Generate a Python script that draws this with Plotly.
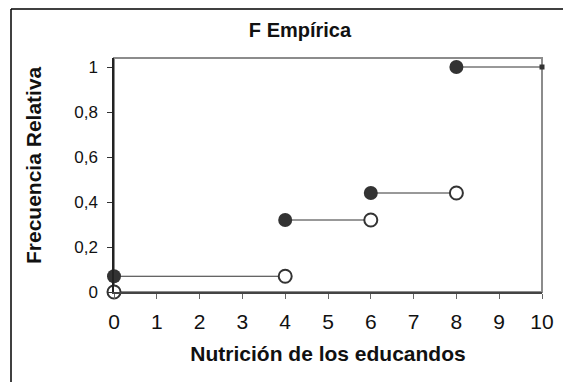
import plotly.graph_objects as go

# Nutricion de los educandos - funcion de distribucion empirica
x_pasos = [0, 4, 6, 8, 10]
frec_acum = [0.07, 0.32, 0.44, 1.0]
frec_previa = [0, 0.07, 0.32, 0.44]
x_ticks = [0, 1, 2, 3, 4, 5, 6, 7, 8, 9, 10]
y_ticks = [0, 0.2, 0.4, 0.6, 0.8, 1]
y_tick_text = ["0", "0,2", "0,4", "0,6", "0,8", "1"]

seg_x, seg_y = [], []
for i in range(len(frec_acum)):
    seg_x += [x_pasos[i], x_pasos[i + 1], None]
    seg_y += [frec_acum[i], frec_acum[i], None]

fig = go.Figure()
fig.add_trace(go.Scatter(x=seg_x, y=seg_y, mode="lines",
                         line=dict(color="#333333", width=1), cliponaxis=False))
fig.add_trace(go.Scatter(x=x_pasos[:-1], y=frec_acum, mode="markers", cliponaxis=False,
                         marker=dict(size=14, color="#333333", line=dict(width=0))))
fig.add_trace(go.Scatter(x=x_pasos[:-1], y=frec_previa, mode="markers", cliponaxis=False,
                         marker=dict(size=13, color="white", line=dict(color="#333333", width=2))))
fig.add_trace(go.Scatter(x=[x_pasos[-1]], y=[frec_acum[-1]], mode="markers", cliponaxis=False,
                         marker=dict(size=5, symbol="square", color="#333333")))

# the page body adds an 8px margin, so the figure is shifted by 8px
W, H = 563, 374
L, R, T, B = 106, 29, 50, 90
pw, ph = W - L - R, H - T - B


def px(x):
    return (x - L) / pw


def py(y):
    return (H - B - y) / ph


fig.update_layout(
    width=W, height=H,
    margin=dict(l=L, r=R, t=T, b=B),
    paper_bgcolor="white", plot_bgcolor="white",
    showlegend=False,
    font=dict(family="Liberation Sans, Arial, sans-serif", color="#111111"),
    title=dict(text="<b>F Empírica</b>", xref="container", x=292 / W, xanchor="center",
               y=1 - 22 / H, yanchor="middle", font=dict(size=20)),
    xaxis=dict(range=[0, 10], tickvals=x_ticks, ticks="outside", ticklen=5,
               tickcolor="#666666", showline=True, linecolor="#444444", linewidth=1.5,
               showgrid=False, zeroline=False, tickfont=dict(size=21),
               ticklabelstandoff=5,
               title=dict(text="<b>Nutrición de los educandos</b>", font=dict(size=21),
                          standoff=14)),
    yaxis=dict(range=[0, 1.04], tickvals=y_ticks, ticktext=y_tick_text,
               ticks="outside", ticklen=5, tickcolor="#333333",
               showline=True, linecolor="#222222", linewidth=1.5,
               showgrid=False, zeroline=False, tickfont=dict(size=17),
               ticklabelstandoff=6),
    annotations=[
        dict(text="<b>Frecuencia Relativa</b>", xref="paper", yref="paper",
             x=px(25), y=py(157), textangle=-90, showarrow=False,
             xanchor="center", yanchor="middle", font=dict(size=21)),
    ],
    shapes=[
        dict(type="rect", xref="paper", yref="paper", x0=0, x1=1, y0=0, y1=1,
             line=dict(color="#8c8c8c", width=2), layer="below"),
        dict(type="line", xref="paper", yref="paper", x0=px(3), x1=px(570),
             y0=py(1), y1=py(1), line=dict(color="black", width=1.5)),
        dict(type="line", xref="paper", yref="paper", x0=px(3), x1=px(3),
             y0=py(1), y1=py(380), line=dict(color="black", width=1.5)),
    ],
)

fig.write_html("out.html")
